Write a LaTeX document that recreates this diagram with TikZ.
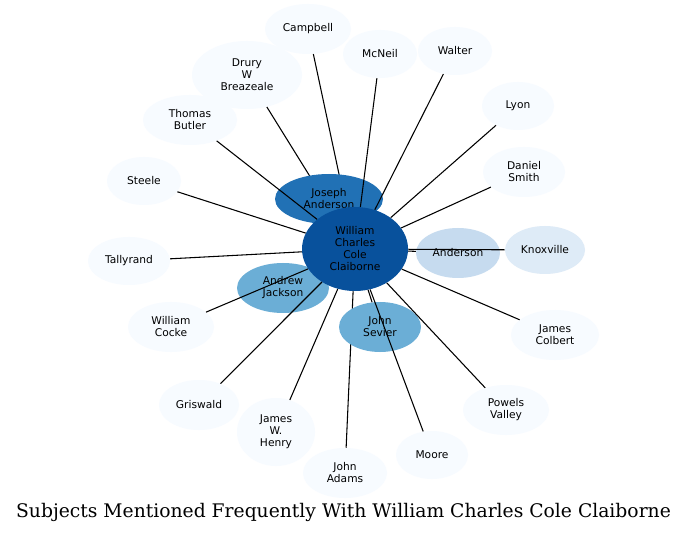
\documentclass[tikz,border=0pt]{standalone}
\usepackage{fontspec}
\setmainfont{DejaVu Sans}
\newfontfamily\titlefont{DejaVu Serif}
\usetikzlibrary{shapes.geometric}
\definecolor{c0}{HTML}{F7FBFF}
\definecolor{c1}{HTML}{DEEBF7}
\definecolor{c2}{HTML}{C6DBEF}
\definecolor{c3}{HTML}{6BAED6}
\definecolor{c4}{HTML}{2171B5}
\definecolor{c5}{HTML}{08519C}
\pgfdeclarelayer{ezero}
\pgfdeclarelayer{none}
\pgfdeclarelayer{eone}
\pgfdeclarelayer{ntwo}
\pgfsetlayers{ezero,none,eone,ntwo,main}
\begin{document}
\begin{tikzpicture}[x=0.75pt,y=-0.75pt,
  nd/.style={ellipse, inner sep=0pt, align=center, font=\fontsize{8pt}{9pt}\selectfont, text=black, fill=c0},
  sz/.style 2 args={minimum width=#1*1.5pt, minimum height=#2*1.5pt},
  ed/.style={draw=black, line width=0.8pt}]
\useasboundingbox (0,0) rectangle (688,534);

\begin{pgfonlayer}{none}
\node[nd, sz={43}{25}] (campbell) at (308,29) {Campbell};
\node[nd, sz={37}{24}] (mcneil) at (380,54) {McNeil};
\node[nd, sz={37}{24}] (walter) at (455,51) {Walter};
\node[nd, sz={55}{34}] (drury) at (247,75) {Drury\\W\\Breazeale};
\node[nd, sz={47}{25}] (butler) at (190,120) {Thomas\\Butler};
\node[nd, sz={36}{24}] (lyon) at (518,106) {Lyon};
\node[nd, sz={41}{25}] (smith) at (524,172) {Daniel\\Smith};
\node[nd, sz={37}{24}] (steele) at (144,181) {Steele};
\node[nd, sz={41}{24}] (tally) at (129,261) {Tallyrand};
\node[nd, sz={43}{25}] (cocke) at (171,327) {William\\Cocke};
\node[nd, sz={40}{25}] (gris) at (199,405) {Griswald};
\node[nd, sz={39}{34}] (henry) at (276,432) {James\\W.\\Henry};
\node[nd, sz={42}{25}] (adams) at (345,473) {John\\Adams};
\node[nd, sz={36}{24}] (moore) at (432,455) {Moore};
\node[nd, sz={43}{25}] (powels) at (506,410) {Powels\\Valley};
\node[nd, sz={44}{25}] (colbert) at (555,335) {James\\Colbert};
\node[nd, sz={40}{24}, fill=c1] (knox) at (545,250) {Knoxville};
\node[nd, sz={42}{25}, fill=c2] (anderson) at (458,253) {Anderson};
\node[nd, sz={46}{25}, fill=c3] (aj) at (283,288) {Andrew\\Jackson};
\end{pgfonlayer}

\begin{pgfonlayer}{ntwo}
\node[nd, sz={54}{25}, fill=c4] (ja) at (329,199) {Joseph\\Anderson};
\node[nd, sz={41}{25}, fill=c3] (js) at (380,327) {John\\Sevier};
\end{pgfonlayer}

\node[nd, sz={53}{42}, fill=c5] (wcc) at (355,249) {William\\Charles\\Cole\\Claiborne};

\begin{pgfonlayer}{ezero}
\fill[white] (0,0) rectangle (688,534);
\draw[ed] (wcc) -- (aj);
\end{pgfonlayer}

\begin{pgfonlayer}{eone}
\draw[ed] (wcc) -- (campbell);
\draw[ed] (wcc) -- (drury);
\draw[ed] (wcc) -- (adams);
\draw[ed] (wcc) -- (ja);
\end{pgfonlayer}

\draw[ed] (wcc) -- (mcneil);
\draw[ed] (wcc) -- (walter);
\draw[ed] (wcc) -- (butler);
\draw[ed] (wcc) -- (lyon);
\draw[ed] (wcc) -- (smith);
\draw[ed] (wcc) -- (steele);
\draw[ed] (wcc) -- (tally);
\draw[ed] (wcc) -- (cocke);
\draw[ed] (wcc) -- (gris);
\draw[ed] (wcc) -- (henry);
\draw[ed] (wcc) -- (moore);
\draw[ed] (wcc) -- (js);
\draw[ed] (wcc) -- (powels);
\draw[ed] (wcc) -- (colbert);
\draw[ed] (wcc) -- (anderson);
\draw[ed] (wcc) -- (knox);

\node[inner sep=0pt] (title) at (343.5,512) {\resizebox{491pt}{!}{\titlefont\fontsize{13pt}{15pt}\selectfont Subjects Mentioned Frequently With William Charles Cole Claiborne}};
\end{tikzpicture}
\end{document}
